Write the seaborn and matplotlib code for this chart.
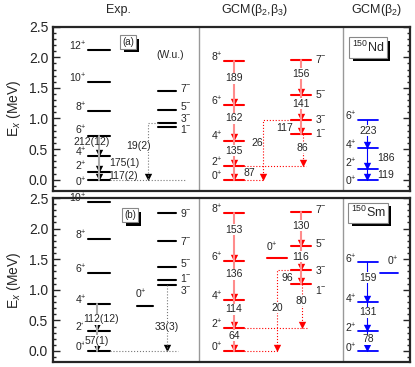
import numpy as np
import pandas as pd
import seaborn as sns
import matplotlib.pyplot as plt
import matplotlib.patheffects as pe
from matplotlib.ticker import MultipleLocator

# ---- data (energies in MeV, B(E2)/B(E3) in W.u.) ----
# 150Nd
nd_exp_gsb_spin = [0, 2, 4, 6, 8, 10, 12]
nd_exp_gsb_E = [0.0, 0.130, 0.381, 0.720, 1.130, 1.599, 2.119]
nd_exp_neg_spin = [1, 3, 5, 7]
nd_exp_neg_E = [0.853, 0.934, 1.138, 1.450]
nd_exp_be2 = ["117(2)", "175(1)", "212(12)"]
nd_exp_be3 = "19(2)"

nd_gcm_pos_spin = [0, 2, 4, 6, 8]
nd_gcm_pos_E = [0.0, 0.22, 0.64, 1.225, 1.94]
nd_gcm_neg_spin = [1, 3, 5, 7]
nd_gcm_neg_E = [0.75, 0.98, 1.39, 1.96]
nd_gcm_be2_pos = ["87", "135", "162", "189"]
nd_gcm_be2_neg = ["117", "141", "156"]
nd_gcm_e3 = ["26", "86"]

nd_b2_spin = [0, 2, 4, 6]
nd_b2_E = [0.0, 0.18, 0.51, 0.98]
nd_b2_be2 = ["119", "186", "223"]

# 150Sm
sm_exp_gsb_spin = [0, 2, 4, 6, 8, 10]
sm_exp_gsb_E = [0.0, 0.334, 0.773, 1.279, 1.837, 2.433]
sm_exp_02_E = 0.740
sm_exp_neg_spin = [3, 1, 5, 7, 9]
sm_exp_neg_E = [1.071, 1.166, 1.37, 1.79, 2.26]
sm_exp_be2 = ["57(1)", "112(12)"]
sm_exp_be3 = "33(3)"

sm_gcm_pos_spin = [0, 2, 4, 6, 8]
sm_gcm_pos_E = [0.0, 0.37, 0.83, 1.47, 2.26]
sm_gcm_02_E = 1.52
sm_gcm_neg_spin = [1, 3, 5, 7]
sm_gcm_neg_E = [1.10, 1.32, 1.71, 2.27]
sm_gcm_be2_pos = ["64", "114", "136", "153"]
sm_gcm_be2_neg = ["96", "116", "130"]
sm_gcm_e3 = ["20", "80"]

sm_b2_spin = [0, 2, 4, 6]
sm_b2_E = [0.0, 0.33, 0.80, 1.46]
sm_b2_02_E = 1.28
sm_b2_be2 = ["78", "131", "159"]

# ---- layout (x in axes pixel-like units) ----
EXP_G = (88, 110)
EXP_N = (158, 176)
EXP_0 = (137, 153)
GCM_P = (224, 244)
GCM_N = (291, 311)
GCM_0 = (267, 287)
B2_P = (358, 378)
B2_0 = (380, 398)
SEP = [199, 343]

RED = "#ff0000"
PINK = "#ff8c8c"
BLUE = "#0000ff"

sns.set_style("ticks")
plt.rcParams["font.family"] = ["Liberation Sans", "DejaVu Sans"]
plt.rcParams["mathtext.fontset"] = "custom"
plt.rcParams["mathtext.rm"] = "Liberation Sans"
plt.rcParams["mathtext.it"] = "Liberation Sans:italic"

FS_TXT = 7.5


def segs(ax, rows, color, lw, ls="-"):
    df = pd.DataFrame(rows, columns=["seg", "x", "y"])
    sns.lineplot(data=df, x="x", y="y", units="seg", estimator=None, sort=False,
                 color=color, lw=lw, linestyle=ls, ax=ax, legend=False)


def levels(ax, ext, energies, color, lw=1.5):
    rows = []
    for i, e in enumerate(energies):
        rows += [(i, ext[0], e), (i, ext[1], e)]
    segs(ax, rows, color, lw)


def spin_lab(ax, x, e, j, par, side="left", dy=0.06):
    s = f"{j}$^{{{par}}}$"
    if side == "left":
        ax.text(x - 1, e + dy, s, ha="right", va="center", fontsize=FS_TXT)
    else:
        ax.text(x + 4, e + dy, s, ha="left", va="center", fontsize=FS_TXT)


def cascade(ax, x, energies, color, arrow_color, lw=1.5, ls="-"):
    segs(ax, [(0, x, energies[-1]), (0, x, energies[0])], color, lw, ls)
    sns.scatterplot(x=[x] * (len(energies) - 1), y=[e + 0.05 for e in energies[:-1]],
                    marker="v", s=28, color=arrow_color, linewidth=0, ax=ax, legend=False)


def path(ax, pts, color, arrow_color, lw=1.0, ls=":"):
    segs(ax, [(0, x, y) for x, y in pts], color, lw, ls)
    sns.scatterplot(x=[pts[-1][0]], y=[pts[-1][1] + 0.05], marker="v", s=28,
                    color=arrow_color, linewidth=0, ax=ax, legend=False)


def lab(ax, x, y, s, bg=False, ha="center"):
    kw = dict(boxstyle="square,pad=0.05", fc="white", ec="none") if bg else None
    ax.text(x, y, s, ha=ha, va="center", fontsize=FS_TXT, bbox=kw, zorder=5)


def shadow_box(ax, x, y, s, fs):
    t = ax.text(x, y, s, ha="center", va="center", fontsize=fs, zorder=7,
                bbox=dict(boxstyle="square,pad=0.2", fc="white", ec="#888888", lw=0.8))
    t.get_bbox_patch().set_path_effects([
        pe.SimplePatchShadow(offset=(2.5, -2.5), shadow_rgbFace="black", alpha=1.0),
        pe.Normal()])


fig = plt.figure(figsize=(4.15, 3.67), dpi=100)
ax1 = fig.add_axes([53 / 415, 176.3 / 367, 357 / 415, 164 / 367])
ax2 = fig.add_axes([53 / 415, 5 / 367, 357 / 415, 164 / 367])

for ax in (ax1, ax2):
    ax.set_xlim(53, 410)
    ax.set_ylim(-0.18, 2.5)
    for x in SEP:
        ax.axvline(x, color="#999999", lw=1.0)

# ---------------- panel (a) 150Nd ----------------
ax = ax1
levels(ax, EXP_G, nd_exp_gsb_E, "black")
for j, e, dy in zip(nd_exp_gsb_spin, nd_exp_gsb_E, [-0.04, 0.08, 0.06, 0.08, 0.06, 0.06, 0.06]):
    spin_lab(ax, EXP_G[0], e, j, "+", dy=dy)
levels(ax, EXP_N, nd_exp_neg_E, "black")
for j, e, dy in zip(nd_exp_neg_spin, nd_exp_neg_E, [-0.02, 0.07, 0.07, 0.05]):
    spin_lab(ax, EXP_N[1], e, j, "-", side="right", dy=dy)
cascade(ax, 99, nd_exp_gsb_E[:4], "#aaaaaa", "black")
segs(ax, [(0, EXP_G[1], 0.0), (0, 186, 0.0)], "#777777", 0.8, ":")
path(ax, [(EXP_N[0], nd_exp_neg_E[1]), (148, nd_exp_neg_E[1]), (148, 0.0)], "#777777", "black", lw=0.8)
lab(ax, 123, 0.065, nd_exp_be2[0])
lab(ax, 124, 0.28, nd_exp_be2[1])
lab(ax, 92, 0.62, nd_exp_be2[2])
lab(ax, 139, 0.55, nd_exp_be3, bg=True)
ax.text(170, 2.04, "(W.u.)", ha="center", va="center", fontsize=FS_TXT)
shadow_box(ax, 128, 2.25, "(a)", 7)

levels(ax, GCM_P, nd_gcm_pos_E, RED)
for j, e in zip(nd_gcm_pos_spin, nd_gcm_pos_E):
    spin_lab(ax, GCM_P[0], e, j, "+")
levels(ax, GCM_N, nd_gcm_neg_E, RED)
for j, e in zip(nd_gcm_neg_spin, nd_gcm_neg_E):
    spin_lab(ax, GCM_N[1], e, j, "-", side="right", dy=0.01)
cascade(ax, 234, nd_gcm_pos_E, PINK, RED)
cascade(ax, 301, nd_gcm_neg_E, PINK, RED)
path(ax, [(GCM_N[0], nd_gcm_neg_E[1]), (263, nd_gcm_neg_E[1]), (263, 0.0)], RED, RED, lw=0.8)
segs(ax, [(0, GCM_P[1], 0.0), (0, 263, 0.0)], RED, 0.8, ":")
path(ax, [(303, nd_gcm_neg_E[0]), (303, nd_gcm_pos_E[1])], RED, RED, lw=0.8)
segs(ax, [(0, GCM_P[1], nd_gcm_pos_E[1]), (0, 306, nd_gcm_pos_E[1])], RED, 0.8, ":")
for s, (x, y) in zip(nd_gcm_be2_pos, [(249, 0.11), (234, 0.47), (234, 1.0), (234, 1.66)]):
    lab(ax, x, y, s, bg=True)
for s, (x, y) in zip(nd_gcm_be2_neg, [(285, 0.85), (301, 1.24), (301, 1.73)]):
    lab(ax, x, y, s, bg=True)
lab(ax, 257, 0.60, nd_gcm_e3[0], bg=True)
lab(ax, 302, 0.52, nd_gcm_e3[1], bg=True)

levels(ax, B2_P, nd_b2_E, BLUE, lw=1.3)
for j, e, dy in zip(nd_b2_spin, nd_b2_E, [-0.02, 0.08, 0.05, 0.06]):
    spin_lab(ax, B2_P[0], e, j, "+", dy=dy)
cascade(ax, 367, nd_b2_E, BLUE, BLUE, lw=0.8)
lab(ax, 368, 0.80, nd_b2_be2[2], bg=True)
lab(ax, 386, 0.35, nd_b2_be2[1])
lab(ax, 386, 0.08, nd_b2_be2[0])
shadow_box(ax, 368, 2.16, "$^{150}$Nd", 9)

# ---------------- panel (b) 150Sm ----------------
ax = ax2
levels(ax, EXP_G, sm_exp_gsb_E, "black")
for j, e in zip(sm_exp_gsb_spin, sm_exp_gsb_E):
    spin_lab(ax, EXP_G[0], e, j, "+")
levels(ax, EXP_0, [sm_exp_02_E], "black")
ax.text(141, sm_exp_02_E + 0.18, "0$^{+}$", ha="center", va="center", fontsize=FS_TXT)
levels(ax, EXP_N, sm_exp_neg_E, "black")
for j, e, dy in zip(sm_exp_neg_spin, sm_exp_neg_E, [-0.07, 0.02, 0.07, 0.0, 0.0]):
    spin_lab(ax, EXP_N[1], e, j, "-", side="right", dy=dy)
cascade(ax, 97, sm_exp_gsb_E[:3], "#aaaaaa", "black")
segs(ax, [(0, EXP_G[1], 0.0), (0, 178, 0.0)], "#777777", 0.8, ":")
path(ax, [(167, sm_exp_neg_E[0]), (167, 0.0)], "#777777", "black", lw=0.8)
lab(ax, 97, 0.17, sm_exp_be2[0], bg=True)
lab(ax, 101, 0.52, sm_exp_be2[1], bg=True)
lab(ax, 167, 0.39, sm_exp_be3, bg=True)
shadow_box(ax, 130, 2.22, "(b)", 7)

levels(ax, GCM_P, sm_gcm_pos_E, RED)
for j, e in zip(sm_gcm_pos_spin, sm_gcm_pos_E):
    spin_lab(ax, GCM_P[0], e, j, "+")
levels(ax, GCM_0, [sm_gcm_02_E], RED)
ax.text(272, sm_gcm_02_E + 0.17, "0$^{+}$", ha="center", va="center", fontsize=FS_TXT)
levels(ax, GCM_N, sm_gcm_neg_E, RED)
for j, e, dy in zip(sm_gcm_neg_spin, sm_gcm_neg_E, [-0.1, 0.0, 0.06, 0.05]):
    spin_lab(ax, GCM_N[1], e, j, "-", side="right", dy=dy)
cascade(ax, 234, sm_gcm_pos_E, PINK, RED)
cascade(ax, 301, sm_gcm_neg_E, PINK, RED)
path(ax, [(GCM_N[0], sm_gcm_neg_E[1]), (277, sm_gcm_neg_E[1]), (277, 0.0)], RED, RED, lw=0.8)
segs(ax, [(0, GCM_P[1], 0.0), (0, 277, 0.0)], RED, 0.8, ":")
path(ax, [(302, sm_gcm_neg_E[0]), (302, sm_gcm_pos_E[1])], RED, RED, lw=0.8)
segs(ax, [(0, GCM_P[1], sm_gcm_pos_E[1]), (0, 307, sm_gcm_pos_E[1])], RED, 0.8, ":")
for s, (x, y) in zip(sm_gcm_be2_pos, [(234, 0.25), (234, 0.68), (234, 1.25), (234, 1.98)]):
    lab(ax, x, y, s, bg=True)
for s, (x, y) in zip(sm_gcm_be2_neg, [(287, 1.20), (301, 1.54), (301, 2.05)]):
    lab(ax, x, y, s, bg=True)
lab(ax, 277, 0.71, sm_gcm_e3[0], bg=True)
lab(ax, 301, 0.82, sm_gcm_e3[1], bg=True)

levels(ax, B2_P, sm_b2_E, BLUE, lw=1.3)
for j, e in zip(sm_b2_spin, sm_b2_E):
    spin_lab(ax, B2_P[0], e, j, "+", dy=0.04)
levels(ax, B2_0, [sm_b2_02_E], BLUE, lw=1.3)
ax.text(393, sm_b2_02_E + 0.18, "0$^{+}$", ha="center", va="center", fontsize=FS_TXT)
cascade(ax, 367, sm_b2_E, BLUE, BLUE, lw=0.8)
for s, y in zip(sm_b2_be2, [0.19, 0.63, 1.2]):
    lab(ax, 368, y, s, bg=True)
shadow_box(ax, 368, 2.26, "$^{150}$Sm", 9)

# ---- axes styling ----
for ax in (ax1, ax2):
    ax.set_xlabel("")
    ax.set_ylabel("E$_{x}$ (MeV)", fontsize=10, labelpad=4)
    ax.set_xticks([])
    ax.yaxis.set_major_locator(MultipleLocator(0.5))
    ax.yaxis.set_minor_locator(MultipleLocator(0.1))
    ax.yaxis.set_major_formatter(plt.FormatStrFormatter("%.1f"))
    ax.tick_params(axis="y", which="both", direction="in", left=True, right=True,
                   labelright=False, labelsize=10, width=1.0)
    ax.tick_params(axis="y", which="major", length=5)
    ax.tick_params(axis="y", which="minor", length=2.5)
    for sp in ax.spines.values():
        sp.set_linewidth(1.6)
        sp.set_visible(True)

fig.text(118 / 415, 0.972, "Exp.", ha="center", va="center", fontsize=9)
fig.text(255 / 415, 0.972, "GCM(β$_{2}$,β$_{3}$)", ha="center", va="center", fontsize=9)
fig.text(377 / 415, 0.972, "GCM(β$_{2}$)", ha="center", va="center", fontsize=9)

fig.savefig("out.png", dpi=100)
